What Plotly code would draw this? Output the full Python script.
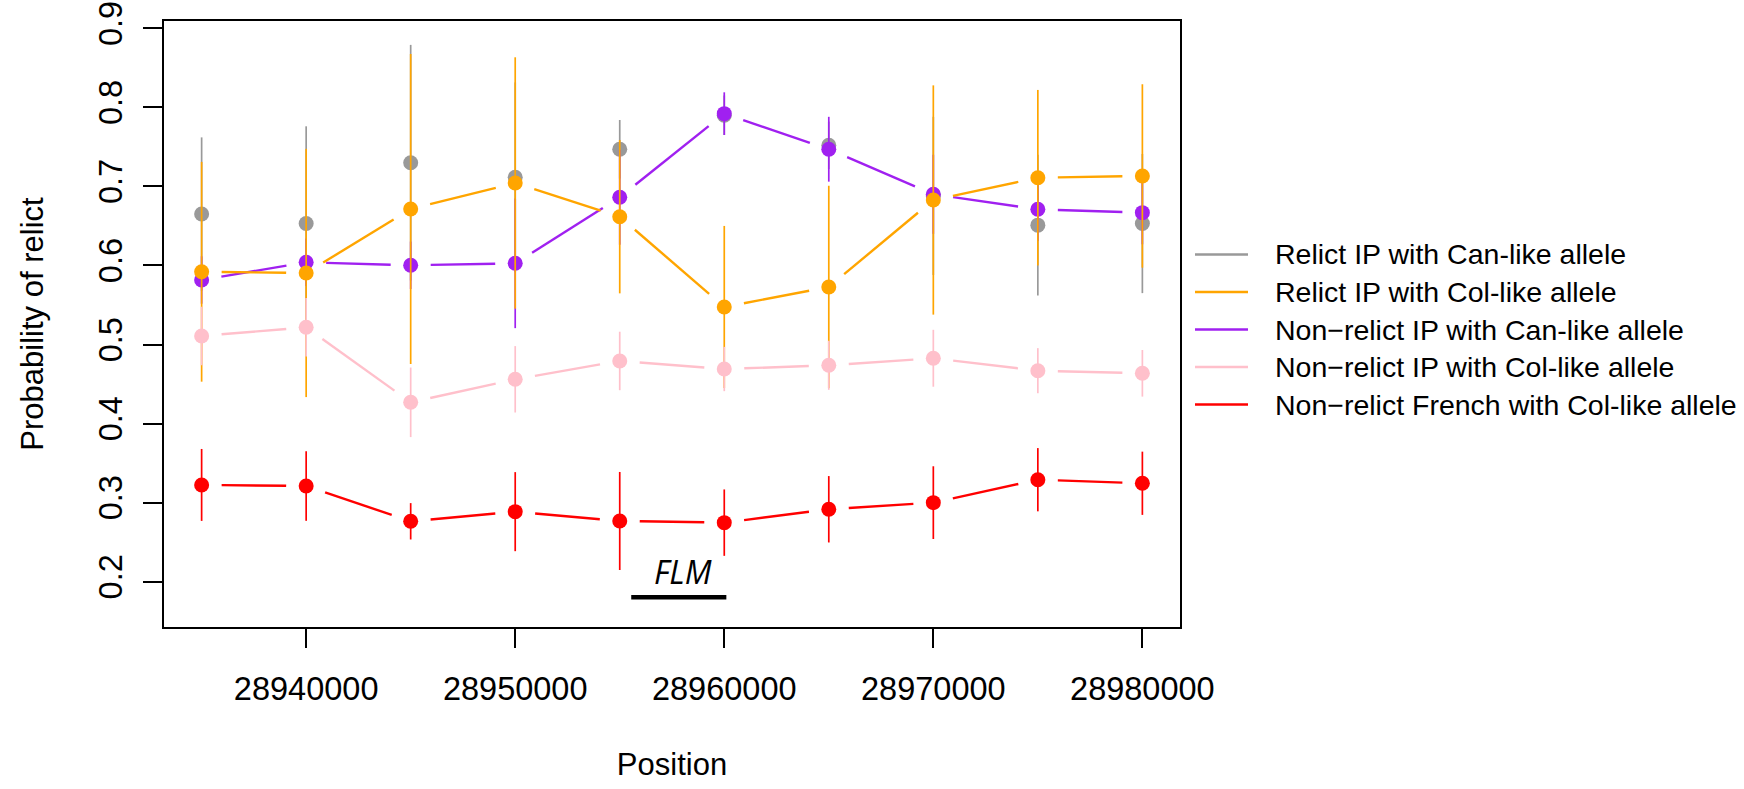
import math
import plotly.graph_objects as go

# Genomic positions (bp) of the sliding windows
positions = [28935000, 28940000, 28945000, 28950000, 28955000,
             28960000, 28965000, 28970000, 28975000, 28980000]

# Probability of relict and half-width of the interval for each group
relict_can = [0.665, 0.653, 0.730, 0.7115, 0.747, 0.790, 0.752, 0.688, 0.651, 0.653]
relict_can_err = [0.097, 0.123, 0.149, 0.120, 0.037, 0.025, 0.030, 0.100, 0.089, 0.088]

relict_col = [0.592, 0.5905, 0.6714, 0.7043, 0.6617, 0.5475, 0.5728, 0.6828, 0.711, 0.7132]
relict_col_err = [0.139, 0.157, 0.196, 0.159, 0.097, 0.1025, 0.128, 0.145, 0.111, 0.116]

nonrelict_can = [0.5816, 0.604, 0.6002, 0.6027, 0.6862, 0.792, 0.747, 0.690, 0.671, 0.6668]
nonrelict_can_err = [0.030, 0.030, 0.030, 0.082, 0.060, 0.027, 0.041, 0.050, 0.040, 0.040]

nonrelict_col = [0.5108, 0.5218, 0.4269, 0.456, 0.4792, 0.469, 0.4737, 0.4826, 0.4669, 0.4636]
nonrelict_col_err = [0.037, 0.037, 0.044, 0.042, 0.037, 0.028, 0.031, 0.036, 0.0285, 0.0295]

french_col = [0.3224, 0.321, 0.2764, 0.2886, 0.2768, 0.2747, 0.2916, 0.300, 0.329, 0.3245]
french_col_err = [0.0455, 0.044, 0.023, 0.050, 0.062, 0.042, 0.042, 0.046, 0.040, 0.040]

series_names = ["Relict IP with Can-like allele",
                "Relict IP with Col-like allele",
                "Non\u2212relict IP with Can-like allele",
                "Non\u2212relict IP with Col-like allele",
                "Non\u2212relict French with Col-like allele"]

x_tick_values = [28940000, 28950000, 28960000, 28970000, 28980000]
x_tick_labels = ["28940000", "28950000", "28960000", "28970000", "28980000"]
y_tick_values = [0.2, 0.3, 0.4, 0.5, 0.6, 0.7, 0.8, 0.9]
y_tick_labels = ["0.2", "0.3", "0.4", "0.5", "0.6", "0.7", "0.8", "0.9"]

# FLM gene extent
flm_start, flm_end = 28955550, 28960100
flm_level = 0.1803

# ---- figure geometry -------------------------------------------------------
W, H = 1744, 789
PL, PR, PT, PB = 164, 1180, 21, 627          # plot area in pixels
X_RANGE = [28933200, 28981800]
Y_RANGE = [0.1427, 0.9092]
sx = (PR - PL) / (X_RANGE[1] - X_RANGE[0])
sy = (PB - PT) / (Y_RANGE[1] - Y_RANGE[0])

FONT = "Liberation Sans, Arial, sans-serif"

GRAY, ORANGE, PURPLE, PINK, RED = "#999999", "#FFA500", "#A020F0", "#FFC0CB", "#FF0000"


def gapped(xs, ys, gap=20):
    """Segments between consecutive points, pulled back from each point
    (like R's type='b')."""
    gx, gy = [], []
    for i in range(len(xs) - 1):
        x0, y0, x1, y1 = xs[i], ys[i], xs[i + 1], ys[i + 1]
        L = math.hypot((x1 - x0) * sx, (y1 - y0) * sy)
        if L <= 2 * gap:
            continue
        f = gap / L
        gx += [x0 + f * (x1 - x0), x1 - f * (x1 - x0), None]
        gy += [y0 + f * (y1 - y0), y1 - f * (y1 - y0), None]
    return gx, gy


def px_x(p):
    return (p - PL) / (PR - PL)


def px_y(p):
    return 1 - (p - PT) / (PB - PT)


fig = go.Figure()

groups = [
    (series_names[0], relict_can, relict_can_err, GRAY, False),
    (series_names[2], nonrelict_can, nonrelict_can_err, PURPLE, True),
    (series_names[1], relict_col, relict_col_err, ORANGE, True),
    (series_names[3], nonrelict_col, nonrelict_col_err, PINK, True),
    (series_names[4], french_col, french_col_err, RED, True),
]

for name, vals, errs, col, connect in groups:
    if connect:
        gx, gy = gapped(positions, vals)
        fig.add_trace(go.Scatter(x=gx, y=gy, mode="lines", connectgaps=False,
                                 line=dict(color=col, width=2.4),
                                 hoverinfo="skip", showlegend=False))
    fig.add_trace(go.Scatter(
        x=positions, y=vals, mode="markers", name=name, showlegend=False,
        marker=dict(color=col, size=15, line=dict(width=0)),
        error_y=dict(type="data", array=errs, width=0, thickness=1.7, color=col),
    ))

# FLM gene bar and label
fig.add_shape(type="line", xref="x", yref="y", x0=flm_start, x1=flm_end,
              y0=flm_level, y1=flm_level, line=dict(color="black", width=4.5))
fig.add_annotation(x=(flm_start + flm_end) / 2 + 180, y=flm_level, xref="x", yref="y",
                   text="<i>FLM</i>", showarrow=False, yanchor="bottom", yshift=2,
                   font=dict(family="Open Sans, sans-serif", size=32, color="black"))

# Legend drawn beside the plot (lines only)
legend_colors = [GRAY, ORANGE, PURPLE, PINK, RED]
for i, (nm, col) in enumerate(zip(series_names, legend_colors)):
    yy = px_y(254.5 + 37.5 * i)
    fig.add_shape(type="line", xref="paper", yref="paper",
                  x0=px_x(1195), x1=px_x(1248), y0=yy, y1=yy,
                  line=dict(color=col, width=2.4))
    fig.add_annotation(xref="paper", yref="paper", x=px_x(1273), y=yy,
                       text=nm, showarrow=False, xanchor="left", yanchor="middle",
                       font=dict(family=FONT, size=28.5, color="black"))

axis_common = dict(showgrid=False, zeroline=False, showline=True, linecolor="black",
                   linewidth=1.5, mirror=True, ticks="outside", ticklen=19,
                   tickwidth=1.5, tickcolor="black",
                   tickfont=dict(family=FONT, size=32.5, color="black"))

fig.update_layout(
    width=W, height=H, autosize=False,
    margin=dict(l=PL, r=W - PR, t=PT, b=H - PB, autoexpand=False),
    paper_bgcolor="white", plot_bgcolor="white",
    xaxis=dict(range=X_RANGE, tickmode="array", tickvals=x_tick_values,
               ticktext=x_tick_labels, ticklabelstandoff=13,
               title=dict(text="Position", standoff=48,
                          font=dict(family=FONT, size=31, color="black")),
               **axis_common),
    yaxis=dict(range=Y_RANGE, tickmode="array", tickvals=y_tick_values,
               ticktext=y_tick_labels, tickangle=-90, ticklabelstandoff=8,
               title=dict(text="Probability of relict", standoff=40,
                          font=dict(family=FONT, size=31, color="black")),
               **axis_common),
    showlegend=False,
)

fig.write_html("out.html")
